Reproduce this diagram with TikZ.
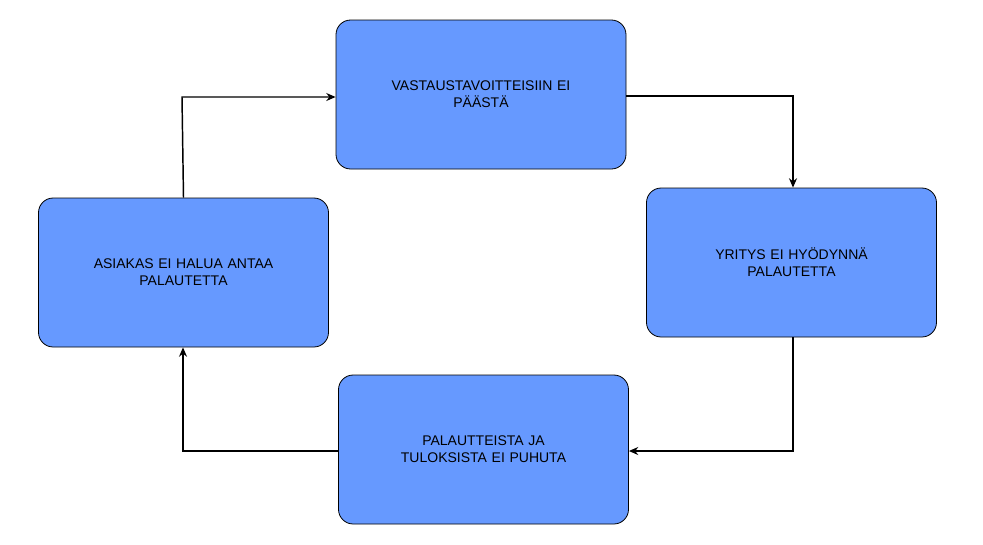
\documentclass[tikz,border=0pt]{standalone}
\usepackage{fontspec}
\setmainfont{Liberation Sans}
\usetikzlibrary{arrows.meta}
\definecolor{boxblue}{HTML}{6699FF}
\begin{document}
\begin{tikzpicture}[x=0.75pt,y=-0.75pt,
  box/.style={draw=black,fill=boxblue,rounded corners=11pt,minimum width=217.5pt,minimum height=111.75pt,align=center,text width=180pt,font=\fontsize{10.5pt}{13pt}\selectfont,line width=0.6pt},
  conn/.style={draw=black,line width=1.1pt,-{Stealth[length=7pt,width=6pt]}}]
\useasboundingbox (0,0) rectangle (983,544);
\node[box] (top) at (481,94.5) {VASTAUSTAVOITTEISIIN EI\\PÄÄSTÄ};
\node[box] (right) at (791.5,262.5) {YRITYS EI HYÖDYNNÄ\\PALAUTETTA};
\node[box] (bottom) at (483.5,449.5) {PALAUTTEISTA JA\\TULOKSISTA EI PUHUTA};
\node[box] (left) at (183.5,272.5) {ASIAKAS EI HALUA ANTAA\\PALAUTETTA};
\coordinate (c1) at (182,97);
\coordinate (c2) at (793,96);
\coordinate (c3) at (793,451);
\coordinate (c4) at (183,451);
\draw[conn] (left.north -| 183.5,0) ++(0,0) -- (c1) -- (top.west |- c1);
\draw[conn] (top.east |- c2) -- (c2) -- (right.north -| c2);
\draw[conn] (right.south -| c3) -- (c3) -- (bottom.east |- c3);
\draw[conn] (bottom.west |- c4) -- (c4) -- (left.south -| c4);
\end{tikzpicture}
\end{document}
